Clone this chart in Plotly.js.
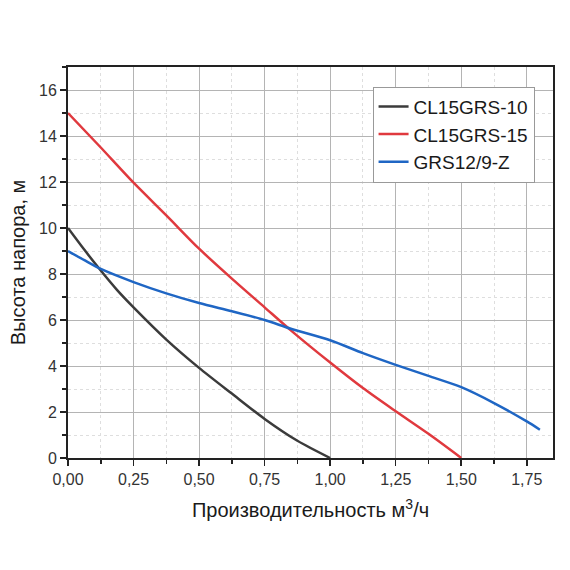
<!DOCTYPE html>
<html>
<head>
<meta charset="utf-8">
<script src="https://cdn.plot.ly/plotly-3.0.1.min.js"></script>
<style>
  html, body { margin: 0; padding: 0; background: #fff; }
  #chart { width: 570px; height: 570px; }
</style>
</head>
<body>
<div id="chart"></div>
<script>
// flow, m3/h and head, m
const flow10 = [0, 0.0625, 0.125, 0.1875, 0.25, 0.375, 0.5, 0.625, 0.75, 0.875, 1.0];
const head10 = [10, 9.05, 8.15, 7.3, 6.55, 5.15, 3.92, 2.8, 1.7, 0.75, 0];

const flow15 = [0, 0.125, 0.25, 0.375, 0.5, 0.625, 0.75, 0.85, 1.0, 1.125, 1.25, 1.375, 1.5];
const head15 = [15, 13.5, 11.97, 10.55, 9.1, 7.8, 6.55, 5.55, 4.15, 3.04, 2.03, 1.05, 0];

const flowZ = [0, 0.0625, 0.125, 0.25, 0.375, 0.5, 0.625, 0.75, 0.85, 1.0, 1.125, 1.25, 1.375, 1.5, 1.625, 1.75, 1.8];
const headZ = [9, 8.6, 8.22, 7.65, 7.16, 6.74, 6.38, 6.0, 5.62, 5.12, 4.56, 4.05, 3.57, 3.08, 2.39, 1.59, 1.23];

const names = ["CL15GRS-10", "CL15GRS-15", "GRS12/9-Z"];
const colors = ["#3b3b3b", "#e0393e", "#1f66c4"];

const data = [
    {x: flow10, y: head10, name: names[0]},
    {x: flow15, y: head15, name: names[1]},
    {x: flowZ, y: headZ, name: names[2]}
].map((t, i) => Object.assign(t, {
    type: "scatter",
    mode: "lines",
    line: {color: colors[i], width: 2.5, shape: "spline", smoothing: 0.8}
}));

const font = "Liberation Sans, Arial, sans-serif";

const axisBase = {
    showline: true,
    linecolor: "#222",
    linewidth: 2,
    mirror: true,
    ticks: "outside",
    ticklen: 6,
    tickwidth: 1.5,
    tickcolor: "#222",
    showgrid: true,
    gridcolor: "#b4b4b4",
    gridwidth: 1,
    zeroline: false,
    tickfont: {family: font, size: 16, color: "#333"}
};

const layout = {
    width: 570,
    height: 570,
    margin: {l: 68, r: 17, t: 67, b: 112},
    paper_bgcolor: "#fff",
    plot_bgcolor: "#fff",
    separators: ", ",
    showlegend: true,
    legend: {
        x: 0.962, y: 0.95,
        xanchor: "right", yanchor: "top",
        bgcolor: "#fff",
        bordercolor: "#999",
        borderwidth: 1,
        font: {family: font, size: 19, color: "#1a1a1a"},
        tracegroupgap: 0
    },
    xaxis: Object.assign({}, axisBase, {
        range: [0, 1.85],
        dtick: 0.25,
        tick0: 0,
        tickformat: ".2f",
        minor: {dtick: 0.125, ticks: "outside", ticklen: 4, tickcolor: "#222",
                showgrid: true, gridcolor: "#dedede", griddash: "dot"},
        title: {text: "Производительность м<sup>3</sup>/ч",
                font: {family: font, size: 20, color: "#1a1a1a"}, standoff: 16}
    }),
    yaxis: Object.assign({}, axisBase, {
        range: [0, 17],
        dtick: 2,
        tick0: 0,
        minor: {dtick: 1, ticks: "outside", ticklen: 4, tickcolor: "#222",
                showgrid: true, gridcolor: "#dedede", griddash: "dot"},
        title: {text: "Высота напора, м",
                font: {family: font, size: 20, color: "#1a1a1a"}, standoff: 8}
    })
};

Plotly.newPlot("chart", data, layout, {displayModeBar: false, staticPlot: true});
</script>
</body>
</html>
